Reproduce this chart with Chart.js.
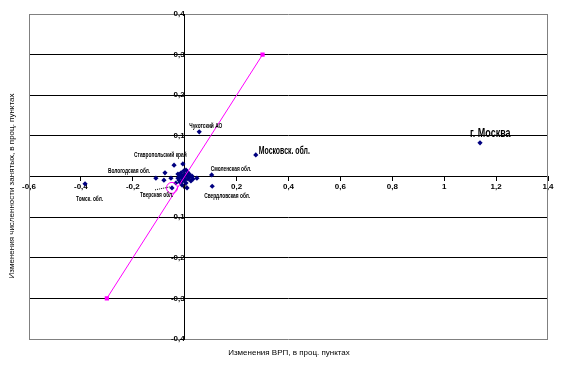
<!DOCTYPE html>
<html>
<head>
<meta charset="utf-8">
<script src="https://cdn.jsdelivr.net/npm/chart.js@4"></script>
<style>
  html, body { margin: 0; padding: 0; background: #fff; }
  #wrap { width: 567px; height: 373px; }
</style>
</head>
<body>
<div id="wrap"><canvas id="chart" width="567" height="373"></canvas></div>
<script>
// ---- данные ----
const xTickValues = [-0.6, -0.4, -0.2, 0, 0.2, 0.4, 0.6, 0.8, 1, 1.2, 1.4];
const yTickValues = [-0.4, -0.3, -0.2, -0.1, 0, 0.1, 0.2, 0.3, 0.4];

// подписанные регионы
const regionNames = ["г. Москва", "Московск. обл.", "Смоленская обл.", "Свердловская обл.",
  "Чукотский АО", "Томск. обл.", "Ставропольский край", "Вологодская обл.", "Тверская обл."];
const regionX = [1.138, 0.274, 0.104, 0.106, 0.056, -0.384, -0.041, -0.111, -0.049];
const regionY = [0.083, 0.053, 0.004, -0.024, 0.110, -0.018, 0.028, -0.004, -0.028];

// остальные регионы (скопление у нуля)
const otherX = [-0.007, -0.003, -0.076, -0.080, -0.053, -0.026, 0.009, 0.047, 0.028,
  -0.018, -0.010, 0.001, 0.013, 0.020, -0.007, 0.005, -0.022, -0.014, 0.017, 0.024,
  -0.003, 0.009, -0.018, -0.026, -0.034, 0.032, 0.005, -0.010, 0.002, -0.005, 0.012, -0.012];
const otherY = [0.031, 0.014, 0.009, -0.009, -0.004, 0.006, -0.028, -0.004, 0.001,
  0.001, -0.004, 0.004, -0.006, -0.001, -0.011, -0.016, -0.009, 0.009, 0.006, -0.011,
  -0.001, 0.001, -0.014, -0.004, -0.016, -0.006, 0.016, -0.021, -0.008, 0.003, 0.010, 0.000];

// линия y = x
const diagX = [-0.3, 0.3];
const diagY = [-0.3, 0.3];

// ---- оформление подписей (смещения в пикселях) ----
const labelDx = [-10, 3, -1, -8, -10, -9, -40, -48, -32];
const labelDy = [-9, -4, -6, 10, -6, 15, -10, -7, 7];
const labelSize = [13, 10, 7, 7, 7, 7, 7, 7, 7];
const labelSqueeze = 0.69;

const fmt = v => String(Math.round(v * 10) / 10).replace(".", ",");
const NAVY = "#000080";
const MAGENTA = "#FF00FF";
const tickFont = { family: "'Liberation Sans', Arial, sans-serif", size: 8, weight: "bold" };

const extras = {
  id: "extras",
  beforeDatasetsDraw(chart) {
    const { ctx, chartArea: a } = chart;
    ctx.save();
    ctx.strokeStyle = "#808080";
    ctx.lineWidth = 1;
    ctx.beginPath();
    ctx.moveTo(Math.round(a.left) + 0.5, a.top);
    ctx.lineTo(Math.round(a.left) + 0.5, a.bottom);
    ctx.moveTo(Math.round(a.right) - 0.5, a.top);
    ctx.lineTo(Math.round(a.right) - 0.5, a.bottom);
    ctx.stroke();
    ctx.restore();
  },
  afterDatasetsDraw(chart) {
    const { ctx } = chart;
    const xs = chart.scales.x, ys = chart.scales.y;
    ctx.save();
    ctx.fillStyle = "#000";
    ctx.textAlign = "left";
    ctx.textBaseline = "middle";
    regionNames.forEach((name, i) => {
      const px = xs.getPixelForValue(regionX[i]);
      const py = ys.getPixelForValue(regionY[i]);
      ctx.save();
      ctx.font = "bold " + labelSize[i] + "px 'Liberation Sans', Arial, sans-serif";
      ctx.translate(px + labelDx[i], py + labelDy[i]);
      ctx.scale(labelSqueeze, 1);
      ctx.fillText(name, 0, 0);
      ctx.restore();
    });
    // выноска к Тверской обл.
    const tx = xs.getPixelForValue(regionX[8]), ty = ys.getPixelForValue(regionY[8]);
    ctx.strokeStyle = "#000";
    ctx.setLineDash([1, 1]);
    ctx.beginPath();
    ctx.moveTo(tx - 17, ty + 2);
    ctx.lineTo(tx - 2, ty - 1);
    ctx.stroke();
    ctx.setLineDash([]);

    // подписи осей
    ctx.font = "8px 'Liberation Sans', Arial, sans-serif";
    ctx.textAlign = "center";
    ctx.fillText("Изменения ВРП, в проц. пунктах", 289, 353);
    ctx.translate(12, 186);
    ctx.rotate(-Math.PI / 2);
    ctx.fillText("Изменения численности занятых, в проц. пунктах", 0, 0);
    ctx.restore();
  }
};

new Chart(document.getElementById("chart"), {
  type: "scatter",
  data: {
    datasets: [
      {
        data: diagX.map((x, i) => ({ x, y: diagY[i] })),
        showLine: true,
        borderColor: MAGENTA,
        borderWidth: 1,
        backgroundColor: MAGENTA,
        pointStyle: "rect",
        pointRadius: 3,
        pointBorderWidth: 0
      },
      {
        data: [{ x: regionX[8], y: regionY[8] }],
        pointStyle: "circle",
        pointRadius: 5.5,
        borderColor: MAGENTA,
        backgroundColor: "rgba(0,0,0,0)",
        pointBorderWidth: 1
      },
      {
        data: regionX.map((x, i) => ({ x, y: regionY[i] }))
          .concat(otherX.map((x, i) => ({ x, y: otherY[i] }))),
        pointStyle: "rectRot",
        pointRadius: 2.6,
        pointBorderWidth: 0,
        backgroundColor: NAVY,
        borderColor: NAVY
      }
    ]
  },
  options: {
    responsive: false,
    animation: false,
    events: [],
    layout: { padding: { left: 29, right: 19, top: 14, bottom: 34 } },
    plugins: { legend: { display: false }, tooltip: { enabled: false } },
    scales: {
      x: {
        type: "linear",
        min: -0.6, max: 1.4,
        position: { y: 0 },
        afterBuildTicks: s => { s.ticks = xTickValues.map(v => ({ value: v })); },
        border: { display: true, color: "#000", width: 1 },
        grid: { drawOnChartArea: false, drawTicks: true, tickLength: 4, color: "#000" },
        ticks: { font: tickFont, color: "#000", padding: 1, maxRotation: 0, autoSkip: false, callback: v => fmt(v) }
      },
      y: {
        type: "linear",
        min: -0.4, max: 0.4,
        position: { x: 0 },
        afterBuildTicks: s => { s.ticks = yTickValues.map(v => ({ value: v })); },
        border: { display: true, color: "#000", width: 1 },
        grid: {
          color: c => (c.tick && Math.abs(c.tick.value) > 0.35 ? "#808080" : "#000"),
          tickColor: "#000",
          tickLength: 4,
          drawTicks: true
        },
        ticks: { font: tickFont, color: "#000", padding: 1, autoSkip: false, callback: v => fmt(v) }
      }
    }
  },
  plugins: [extras]
});
</script>
</body>
</html>
